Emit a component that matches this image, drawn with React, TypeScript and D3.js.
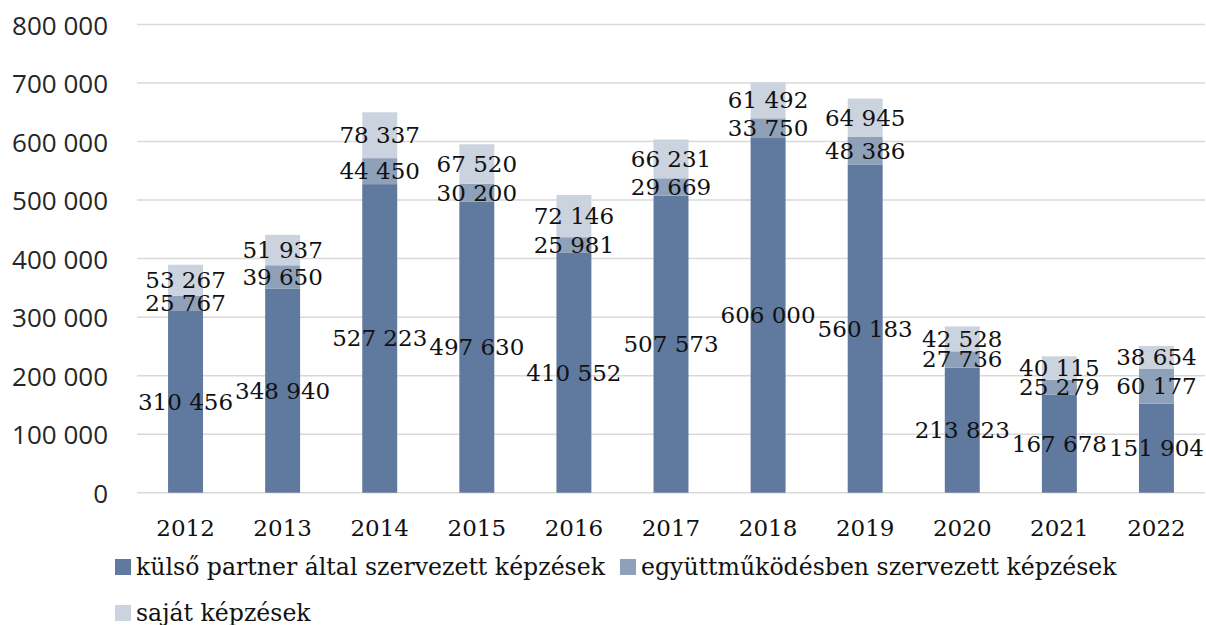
import React from 'react';
import * as d3 from 'd3';

const years = ['2012', '2013', '2014', '2015', '2016', '2017', '2018', '2019', '2020', '2021', '2022'];
const kulso = [310456, 348940, 527223, 497630, 410552, 507573, 606000, 560183, 213823, 167678, 151904];
const egyutt = [25767, 39650, 44450, 30200, 25981, 29669, 33750, 48386, 27736, 25279, 60177];
const sajat = [53267, 51937, 78337, 67520, 72146, 66231, 61492, 64945, 42528, 40115, 38654];
const seriesNames = ['külső partner által szervezett képzések', 'együttműködésben szervezett képzések', 'saját képzések'];
const yTicks = [0, 100000, 200000, 300000, 400000, 500000, 600000, 700000, 800000];

const colors = ['#60799e', '#8fa0b9', '#cbd3de'];
const serif = '"DejaVu Serif", serif';
const sans = '"Open Sans", sans-serif';

const fmt = (v: number) => d3.format(',')(v).replace(/,/g, ' ');

export default function App() {
  const width = 1206;
  const height = 625;
  const margin = { left: 137, right: 1, top: 24.5, bottom: 132.3 };

  const rows = years.map((y, i) => ({ year: y, k0: kulso[i], k1: egyutt[i], k2: sajat[i] }));
  const stacked = d3.stack<any>().keys(['k0', 'k1', 'k2'])(rows);

  const x = d3.scaleBand()
    .domain(years)
    .range([margin.left, width - margin.right])
    .paddingInner(0.64)
    .paddingOuter(0.32);

  const y = d3.scaleLinear()
    .domain([0, 800000])
    .range([height - margin.bottom, margin.top]);

  const legendItems = [
    { x: 115, y: 559 },
    { x: 620, y: 559 },
    { x: 115, y: 605 },
  ];

  return (
    <svg width={width} height={height} style={{ position: 'absolute', left: 0, top: 0, background: '#fff' }}>
      <g>
        {yTicks.map(t => (
          <g key={t}>
            <line x1={margin.left} x2={width - margin.right} y1={y(t)} y2={y(t)} stroke="#d9d9d9" strokeWidth={1.5} />
            <text x={108} y={y(t)} textAnchor="end" dominantBaseline="central" fontFamily={sans} fontSize={26} fill="#262626">
              {fmt(t)}
            </text>
          </g>
        ))}
      </g>
      {stacked.map((s, si) => (
        <g key={si} fill={colors[si]}>
          {s.map((d, i) => (
            <rect key={i} x={x(years[i])} width={x.bandwidth()} y={y(d[1])} height={y(d[0]) - y(d[1])} />
          ))}
        </g>
      ))}
      {stacked.map((s, si) => (
        <g key={'l' + si}>
          {s.map((d, i) => (
            <text key={i} x={(x(years[i]) as number) + x.bandwidth() / 2} y={y((d[0] + d[1]) / 2)}
              textAnchor="middle" dominantBaseline="central" fontFamily={serif} fontSize={23} fill="#111">
              {fmt(d[1] - d[0])}
            </text>
          ))}
        </g>
      ))}
      {years.map(yr => (
        <text key={yr} x={(x(yr) as number) + x.bandwidth() / 2} y={528} textAnchor="middle" dominantBaseline="central"
          fontFamily={serif} fontSize={23} fill="#111">
          {yr}
        </text>
      ))}
      {seriesNames.map((n, i) => (
        <g key={n}>
          <rect x={legendItems[i].x} y={legendItems[i].y} width={16} height={16} fill={colors[i]} />
          <text x={legendItems[i].x + 21} y={legendItems[i].y + 8} dominantBaseline="central" fontFamily={serif} fontSize={23.6} fill="#111">
            {n}
          </text>
        </g>
      ))}
    </svg>
  );
}
